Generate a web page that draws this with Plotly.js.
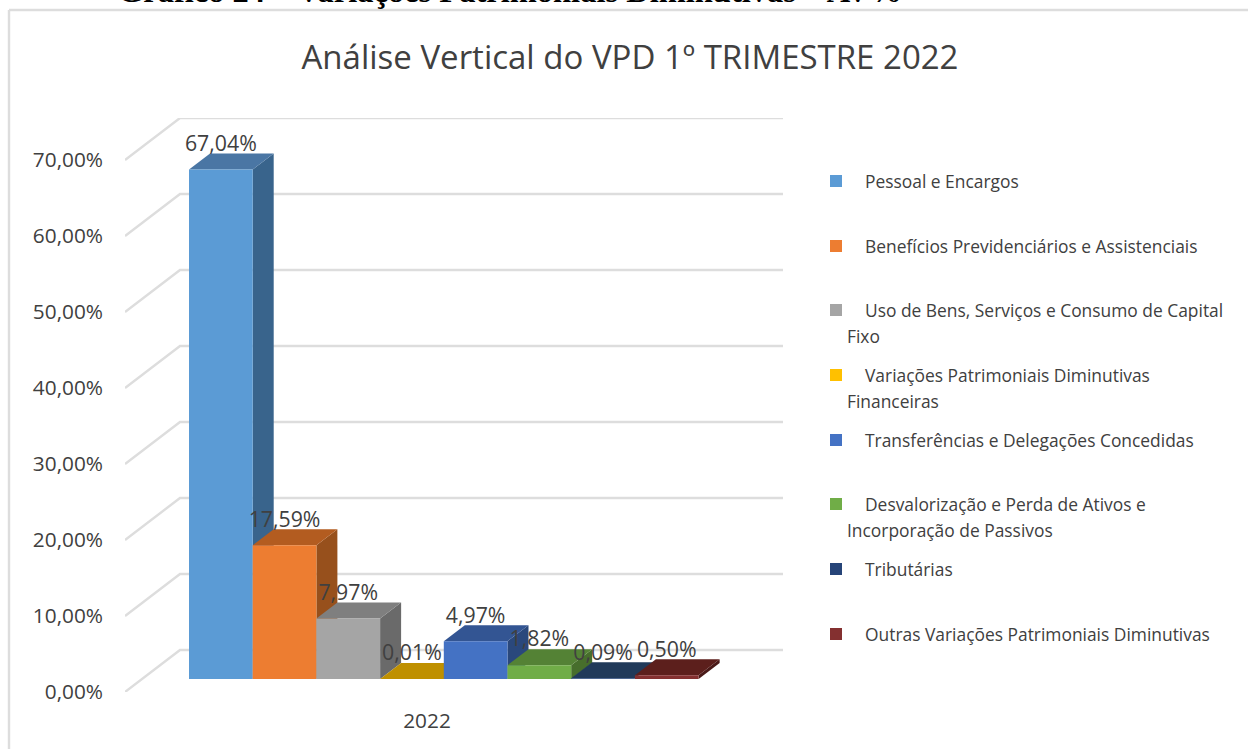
<!DOCTYPE html>
<html><head><meta charset="utf-8">
<script src="https://cdn.plot.ly/plotly-3.0.1.min.js"></script>
<style>html,body{margin:0;padding:0;background:#fff;overflow:hidden}</style>
</head><body><div id="chart" style="width:1248px;height:749px"></div>
<script>
const seriesNames = ['Pessoal e Encargos','Benefícios Previdenciários e Assistenciais','Uso de Bens, Serviços e Consumo de Capital Fixo','Variações Patrimoniais Diminutivas Financeiras','Transferências e Delegações Concedidas','Desvalorização e Perda de Ativos e Incorporação de Passivos','Tributárias','Outras Variações Patrimoniais Diminutivas'];
const seriesValues = [67.04,17.59,7.97,0.01,4.97,1.82,0.09,0.50];
const frontColors = ['#5B9BD5','#ED7D31','#A5A5A5','#FFC000','#4472C4','#70AD47','#264478','#843030'];
const topColors   = ['#4A76A4','#B35C20','#7F7F7F','#BF9000','#335593','#548235','#213A5A','#5C1F1C'];
const sideColors  = ['#39648C','#97501C','#6A6A6A','#A07800','#2A487C','#476E2C','#1C3250','#4A1A18'];
const legendLines = [['Pessoal e Encargos'],['Benefícios Previdenciários e Assistenciais'],['Uso de Bens, Serviços e Consumo de Capital','Fixo'],['Variações Patrimoniais Diminutivas','Financeiras'],['Transferências e Delegações Concedidas'],['Desvalorização e Perda de Ativos e','Incorporação de Passivos'],['Tributárias'],['Outras Variações Patrimoniais Diminutivas']];
const gridValues = [0,10,20,30,40,50,60,70];
const categoryLabel = '2022';

const FONT = '"Open Sans", sans-serif', INK = '#404040';
const L=125,R=783,T=118,B=692,W=1248,H=749;
const ux=63.7, uy=7.6;              // px per category slot, px per percentage point
const floorY=(B-679)/uy;            // front edge of the bars above the axis zero
const wallDx=55/ux, wallDy=42/uy;   // depth of the floor
const barDx=21/ux, barDy=16/uy;     // depth of a bar
const xMin=-(189-L)/ux, xMax=(R-189)/ux, yMax=(B-T)/uy;
const px=x=>(x-L)/(R-L), py=y=>(B-y)/(B-T);

const traces=[];
// back wall and floor grid lines
gridValues.forEach(v=>traces.push({type:'scatter',mode:'lines',hoverinfo:'skip',showlegend:false,
  x:[xMin,xMin+wallDx,xMax],y:[v,v+wallDy,v+wallDy],line:{color:'#DDDDDD',width:2.4}}));
// side and top faces, painted left to right
seriesValues.forEach((v,i)=>{
  const top=floorY+v;
  traces.push({type:'scatter',mode:'lines',fill:'toself',hoverinfo:'skip',showlegend:false,fillcolor:sideColors[i],line:{width:0,color:sideColors[i]},
    x:[i+1,i+1+barDx,i+1+barDx,i+1,i+1],y:[floorY,floorY+barDy,top+barDy,top,floorY]});
  traces.push({type:'scatter',mode:'lines',fill:'toself',hoverinfo:'skip',showlegend:false,fillcolor:topColors[i],line:{width:0,color:topColors[i]},
    x:[i,i+barDx,i+1+barDx,i+1,i],y:[top,top+barDy,top+barDy,top,top]});
});
// front faces
seriesValues.forEach((v,i)=>traces.push({type:'bar',xaxis:'x2',yaxis:'y2',name:seriesNames[i],x:[i+0.5],y:[v],base:[floorY],width:[1],marker:{color:frontColors[i],line:{width:0}},showlegend:false}));
// data labels
traces.push({type:'scatter',mode:'text',xaxis:'x2',yaxis:'y2',hoverinfo:'skip',showlegend:false,cliponaxis:false,
  x:seriesValues.map((v,i)=>i+0.5),y:seriesValues.map(v=>floorY+v+24/uy),
  text:seriesValues.map(v=>v.toFixed(2).replace('.',',')+'%'),textposition:'middle center',
  textfont:{family:FONT,size:21.3,color:INK}});

const annotations=[],shapes=[];
const rowY=[181,246,310,375,440,504,569,634];
legendLines.forEach((lines,i)=>{
  shapes.push({type:'rect',xref:'paper',yref:'paper',x0:px(830),x1:px(842),y0:py(rowY[i]-6),y1:py(rowY[i]+6),fillcolor:frontColors[i],line:{width:0}});
  lines.forEach((t,j)=>annotations.push({xref:'paper',yref:'paper',x:px(j?845:863),y:py(rowY[i]+j*25.5),xanchor:'left',yanchor:'middle',showarrow:false,text:t,font:{family:FONT,size:17.4,color:INK}}));
});
// chart frame: top and left edges are the only ones inside the picture
shapes.push({type:'line',xref:'paper',yref:'paper',x0:px(9),x1:px(1248),y0:py(10),y1:py(10),line:{color:'#DDDDDD',width:2.4},layer:'below'});
shapes.push({type:'line',xref:'paper',yref:'paper',x0:px(9),x1:px(9),y0:py(10),y1:py(749),line:{color:'#DDDDDD',width:2.4},layer:'below'});
annotations.push({xref:'paper',yref:'paper',x:px(510),y:py(-9.5),xanchor:'center',yanchor:'middle',showarrow:false,text:'<b>Gráfico 24 – Variações Patrimoniais Diminutivas – AV%</b>',font:{family:'"Liberation Serif", serif',size:32.5,color:'#000'}});

const layout={width:W,height:H,margin:{l:L,r:W-R,t:T,b:H-B},paper_bgcolor:'#fff',plot_bgcolor:'rgba(0,0,0,0)',showlegend:false,barmode:'overlay',
  separators:',.',
  title:{text:'Análise Vertical do VPD 1º TRIMESTRE 2022',font:{family:FONT,size:33,color:INK},x:630/W,xanchor:'center',y:1-57/H,yanchor:'middle'},
  xaxis:{range:[xMin,xMax],showgrid:false,zeroline:false,showline:false,ticks:'',tickmode:'array',tickvals:[(427-189)/ux],ticktext:[categoryLabel],tickfont:{family:FONT,size:20.8,color:INK},ticklabelstandoff:14},
  yaxis:{range:[0,yMax],showgrid:false,zeroline:false,showline:false,ticks:'',tickmode:'array',tickvals:gridValues,ticktext:gridValues.map(v=>v.toFixed(2).replace('.',',')+'%'),tickfont:{family:FONT,size:20.8,color:INK},ticklabelstandoff:21},
  xaxis2:{overlaying:'x',range:[xMin,xMax],visible:false},
  yaxis2:{overlaying:'y',range:[0,yMax],visible:false},
  annotations,shapes};
Plotly.newPlot('chart',traces,layout,{displayModeBar:false,staticPlot:true});
</script></body></html>
